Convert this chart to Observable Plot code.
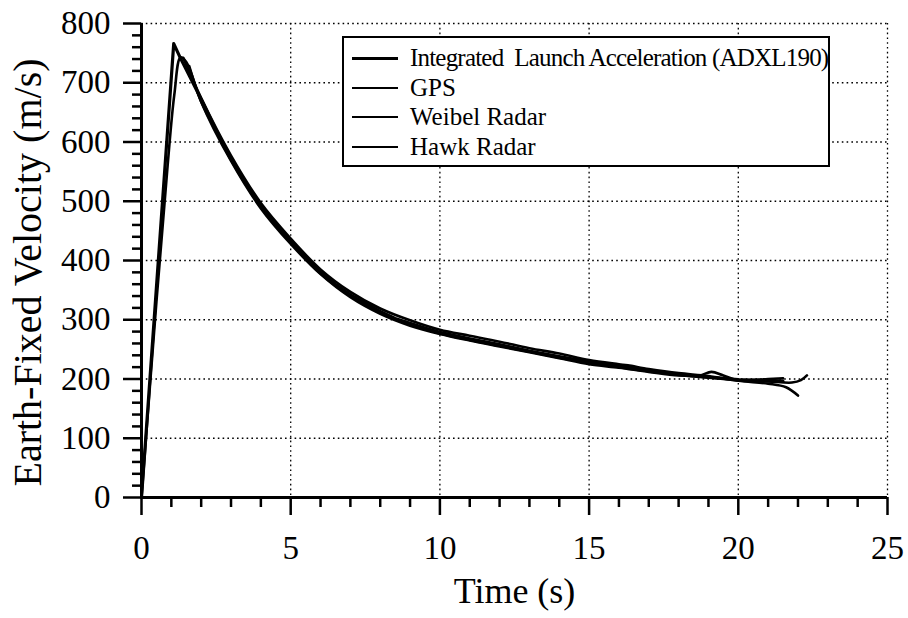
<!DOCTYPE html>
<html>
<head>
<meta charset="utf-8">
<script src="https://cdn.jsdelivr.net/npm/d3@7"></script>
<script src="https://cdn.jsdelivr.net/npm/@observablehq/plot@0.6"></script>
<style>
  html, body { margin: 0; padding: 0; background: #fff; }
  #wrap { position: relative; width: 908px; height: 618px; font-family: "Liberation Serif", "Times New Roman", serif; }
  #legend { position: absolute; left: 342px; top: 36px; width: 484px; height: 127px; border: 2.5px solid #000; background: #fff; }
  .row { position: absolute; left: 8px; height: 30px; display: flex; align-items: center; font-size: 25px; color: #000; white-space: nowrap; }
  .sw { width: 46px; height: 0; border-top: 2px solid #000; margin-right: 12px; }
</style>
</head>
<body>
<div id="wrap"></div>
<script>
// ---- data ----
const seriesNames = ["Integrated  Launch Acceleration (ADXL190)", "GPS", "Weibel Radar", "Hawk Radar"];
const xMajorTicks = [0, 5, 10, 15, 20, 25];
const xMinorTicks = [1,2,3,4,6,7,8,9,11,12,13,14,16,17,18,19,21,22,23,24];
const yMajorTicks = [0, 100, 200, 300, 400, 500, 600, 700, 800];
const yMinorTicks = [20,40,60,80,120,140,160,180,220,240,260,280,320,340,360,380,420,440,460,480,520,540,560,580,620,640,660,680,720,740,760,780];

const adxlT = [0, 1.08, 1.3, 1.6, 2, 2.5, 3, 3.5, 4, 4.5, 5, 5.5, 6, 6.5, 7, 7.5, 8, 8.5, 9, 9.5, 10, 11, 12, 13, 14, 15, 16, 17, 18, 19, 20, 21, 21.5];
const adxlV = [0, 766, 742, 712, 672, 620, 572, 530, 492, 460, 432, 405, 380, 360, 342, 328, 314, 302, 294, 286, 279, 268, 258, 247, 238, 229, 222, 214, 208, 203, 199, 197, 196];

const gpsT = [0, 0.5, 0.86, 1.1, 1.31, 1.5, 2, 2.5, 3, 4, 5, 6, 7, 8, 9, 10, 11, 12, 13, 14, 15, 16, 17, 18, 19, 20, 21, 21.8, 22.1, 22.3];
const gpsV = [0, 330, 551, 680, 743, 735, 668, 618, 570, 490, 430, 378, 340, 312, 292, 277, 266, 256, 246, 236, 228, 220, 213, 207, 202, 198, 196, 194, 198, 206];

const weibelT = [1.4, 2, 3, 4, 5, 6, 7, 8, 9, 10, 11, 12, 13, 14, 15, 16, 16.3, 17, 18, 19, 20, 21, 21.6, 22.0];
const weibelV = [742, 674, 577, 497, 437, 385, 347, 319, 299, 283, 273, 263, 252, 243, 232, 225, 223, 217, 210, 205, 197, 192, 186, 172];

const hawkT = [1.6, 2, 3, 4, 5, 6, 7, 8, 9, 10, 11, 12, 13, 14, 15, 16, 17, 18, 18.7, 19.1, 19.5, 20, 21, 21.5];
const hawkV = [728, 668, 568, 488, 428, 377, 338, 310, 290, 276, 265, 255, 245, 235, 225, 219, 212, 206, 206, 212, 206, 198, 200, 201];

// ---- build table ----
const rows = [];
[[adxlT, adxlV, 0], [gpsT, gpsV, 1], [weibelT, weibelV, 2], [hawkT, hawkV, 3]].forEach(([T, V, i]) => {
  T.forEach((t, j) => rows.push({t, v: V[j], s: seriesNames[i]}));
});

const serif = "Liberation Serif, Times New Roman, serif";
const dotted = {stroke: "#000", strokeOpacity: 1, strokeWidth: 1.3, strokeDasharray: "1.6 3.2"};

const chart = Plot.plot({
  width: 908,
  height: 618,
  marginLeft: 141,
  marginRight: 21,
  marginTop: 23,
  marginBottom: 121,
  style: {fontFamily: serif, background: "#fff", color: "#000"},
  x: {domain: [0, 25]},
  y: {domain: [0, 800]},
  marks: [
    Plot.gridX({ticks: xMajorTicks.filter(d => d > 0), ...dotted}),
    Plot.gridY({ticks: yMajorTicks.filter(d => d > 0), ...dotted}),
    Plot.line(rows.filter(d => d.s !== seriesNames[0]), {x: "t", y: "v", z: "s", stroke: "#000", strokeWidth: 2.6, curve: "catmull-rom"}),
    Plot.line(rows.filter(d => d.s === seriesNames[0]), {x: "t", y: "v", stroke: "#000", strokeWidth: 3.2, curve: "linear"}),
    Plot.axisY({ticks: yMajorTicks, tickSize: 18, tickPadding: 13, fontSize: 33, strokeWidth: 2.5, label: null, tickFormat: d => String(d)}),
    Plot.axisY({ticks: yMinorTicks, tickSize: 9, strokeWidth: 2.5, fill: "none", label: null}),
    Plot.axisX({ticks: xMajorTicks, tickSize: 18, tickPadding: 20, fontSize: 33, strokeWidth: 2.5, label: null, tickFormat: d => String(d)}),
    Plot.axisX({ticks: xMinorTicks, tickSize: 10, strokeWidth: 2.5, fill: "none", label: null}),
    Plot.ruleX([0], {stroke: "#000", strokeWidth: 3}),
    Plot.ruleY([0], {stroke: "#000", strokeWidth: 3}),
    Plot.text(["Time (s)"], {frameAnchor: "bottom", dy: 94, fontSize: 36, fill: "#000", lineAnchor: "middle"}),
    Plot.text(["Earth-Fixed Velocity (m/s)"], {frameAnchor: "left", dx: -113, dy: 12, rotate: -90, fontSize: 40, fill: "#000", textAnchor: "middle", lineAnchor: "middle"})
  ]
});

const wrap = document.getElementById("wrap");
wrap.appendChild(chart);

const legend = document.createElement("div");
legend.id = "legend";
seriesNames.forEach((name, i) => {
  const r = document.createElement("div");
  r.className = "row";
  r.style.top = (5 + i * 29.7) + "px";
  const sw = document.createElement("span");
  sw.className = "sw";
  if (i === 0) sw.style.borderTopWidth = "3px";
  const tx = document.createElement("span");
  tx.textContent = name;
  tx.style.whiteSpace = "pre";
  if (i === 0) tx.style.letterSpacing = "-0.8px";
  r.appendChild(sw);
  r.appendChild(tx);
  legend.appendChild(r);
});
wrap.appendChild(legend);
</script>
</body>
</html>
